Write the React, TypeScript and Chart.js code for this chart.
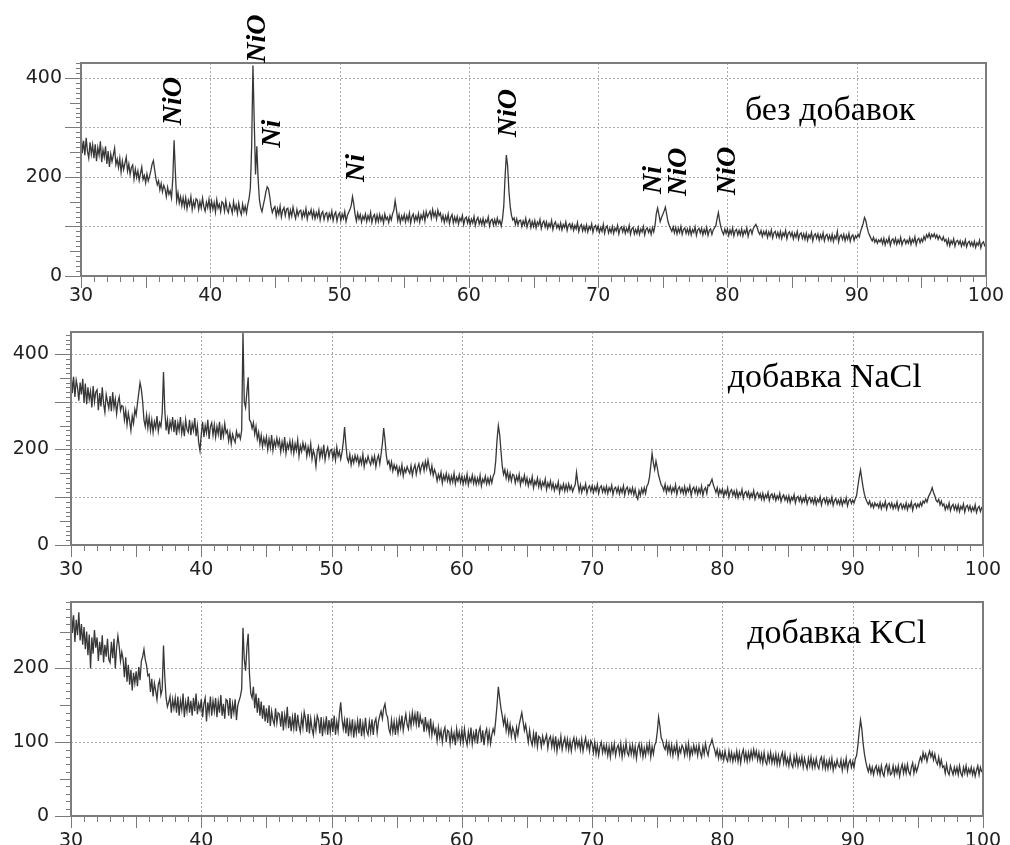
import React, { useEffect, useRef } from "react";
import { Chart, registerables } from "chart.js";

Chart.register(...registerables);

// 2θ grid: 30.0 … 100.0 step 0.1 (one row = one degree)
const THETA_START = 30;
const THETA_STEP = 0.1;

// Без добавок
const P1_NONE = [
  292,248,273,244,279,252,238,270,246,265,
  238,266,232,259,244,272,230,255,240,262,
  226,252,220,246,231,244,258,225,236,219,
  238,210,232,215,228,240,212,226,205,219,
  224,196,216,199,212,193,207,220,195,203,
  188,206,192,201,212,226,233,214,196,184,
  192,174,187,170,183,176,160,179,165,172,
  158,196,274,210,152,168,147,160,142,158,
  140,158,136,153,143,160,134,151,139,156,
  153,134,150,137,157,140,131,149,138,155,
  133,151,135,148,129,154,137,145,130,150,
  147,131,152,134,128,146,138,127,150,133,
  143,126,147,132,124,145,130,141,127,144,
  156,178,262,425,312,205,262,196,154,138,
  130,143,155,170,180,176,160,140,128,136,
  140,121,136,125,141,119,133,138,122,135,
  137,118,133,121,139,126,116,134,122,131,
  133,117,130,121,136,115,129,124,134,118,
  131,116,128,119,133,113,126,130,114,125,
  128,113,126,117,131,112,124,129,111,123,
  127,112,125,116,130,110,122,128,134,142,
  160,145,124,111,127,115,124,109,121,114,
  125,110,122,113,128,108,120,124,109,123,
  110,124,112,121,107,125,114,119,108,122,
  113,126,133,152,134,112,124,108,121,113,
  124,109,122,112,127,107,120,125,110,121,
  112,126,109,123,115,128,111,130,119,125,
  131,117,134,120,129,115,133,122,127,112,
  122,108,121,111,125,106,118,124,107,119,
  109,120,105,117,111,122,104,116,119,107,
  117,104,115,107,120,102,113,118,105,114,
  104,116,102,113,108,119,101,112,115,103,
  114,103,117,106,112,101,115,141,200,244,
  222,171,140,122,113,117,104,115,103,112,
  113,100,111,103,116,99,109,114,98,110,
  100,112,97,109,103,114,96,107,111,99,
  109,96,106,99,112,94,105,109,97,104,
  95,107,93,104,98,109,92,103,106,96,
  105,92,102,95,108,90,100,104,91,101,
  91,103,89,100,94,105,88,99,102,92,
  101,88,98,90,104,86,97,101,87,96,
  88,100,86,97,91,102,85,96,99,89,
  99,86,96,89,102,84,95,98,85,94,
  86,98,84,95,89,100,83,94,97,88,
  95,84,98,89,102,126,137,124,110,118,
  124,131,139,125,110,102,96,90,99,87,
  98,85,96,88,100,84,94,97,86,95,
  85,97,83,94,88,99,82,93,96,87,
  96,83,94,86,98,82,92,95,84,93,
  97,101,116,128,111,98,90,84,95,86,
  95,82,93,85,97,81,91,94,83,92,
  83,95,81,92,86,97,80,91,94,85,
  96,100,104,98,89,84,92,80,90,83,
  91,78,89,81,93,77,87,90,79,88,
  78,90,76,87,81,92,75,86,89,80,
  88,75,86,78,90,74,84,87,76,85,
  74,86,72,83,77,88,71,82,85,76,
  85,72,83,75,87,71,81,84,73,82,
  72,84,70,81,75,90,69,80,83,74,
  84,71,82,74,86,70,80,83,72,81,
  77,84,79,90,98,106,118,112,99,88,
  82,76,71,78,68,74,66,73,69,75,
  65,76,63,73,67,78,62,72,75,66,
  76,64,73,66,78,63,71,74,65,72,
  66,77,64,74,68,79,63,73,76,67,
  75,69,80,73,83,78,86,76,84,79,
  85,77,83,74,81,76,72,79,70,74,
  63,74,61,71,65,75,60,70,72,64,
  71,60,69,62,73,59,67,70,61,68,
  60,70,58,67,62,72,57,66,69,61,
  64,
];

// Добавка NaCl
const P2_NACL = [
  365,318,352,310,345,330,302,340,315,348,
  298,338,295,330,305,322,288,333,300,320,
  325,282,318,290,330,296,278,315,300,286,
  312,280,320,288,305,275,298,310,282,292,
  290,262,282,252,276,260,240,270,255,284,
  272,296,318,340,326,300,262,248,272,245,
  268,240,262,236,258,245,270,238,256,248,
  276,362,282,240,262,232,258,244,268,236,
  262,230,256,240,268,234,252,228,262,242,
  236,262,230,254,240,266,228,250,215,198,
  232,258,226,250,235,262,222,248,256,230,
  252,226,248,232,258,220,246,228,254,234,
  240,218,236,212,232,222,215,238,226,232,
  222,240,445,300,288,320,351,262,258,244,
  256,232,248,222,236,212,230,206,224,210,
  226,200,222,204,230,198,218,206,224,208,
  220,195,216,200,226,192,212,202,218,196,
  216,192,212,198,220,186,208,196,214,200,
  210,186,205,190,212,180,198,188,165,196,
  206,182,200,186,210,178,195,204,184,198,
  200,182,198,178,205,186,196,180,194,216,
  247,210,182,174,190,168,184,172,188,176,
  186,168,182,170,190,164,180,172,186,175,
  168,184,172,186,164,180,188,170,190,212,
  245,220,188,170,176,160,174,155,168,158,
  166,148,162,150,168,145,160,152,164,156,
  150,166,146,160,168,148,162,170,152,165,
  172,156,175,160,178,162,150,166,146,158,
  150,134,148,138,152,130,146,136,150,134,
  146,130,144,132,150,128,142,134,147,131,
  144,128,142,130,148,126,140,132,146,129,
  142,127,140,129,146,124,138,131,144,128,
  140,128,142,130,144,150,176,220,250,232,
  198,165,148,158,140,154,136,150,134,148,
  146,130,144,134,148,126,140,132,146,128,
  140,124,137,128,143,120,134,126,140,122,
  135,119,132,124,138,116,130,121,134,118,
  129,114,126,118,132,110,124,116,128,113,
  126,114,128,116,124,112,120,126,152,130,
  112,126,110,122,116,128,108,120,124,113,
  124,110,122,113,127,108,120,124,111,121,
  110,123,108,120,113,125,106,118,121,110,
  121,107,119,110,124,105,117,121,108,118,
  108,120,105,117,102,96,114,104,118,108,
  120,108,123,128,142,166,192,172,158,176,
  162,146,136,126,122,114,127,110,122,113,
  123,109,120,112,126,106,118,122,110,119,
  108,122,106,119,112,124,104,117,121,109,
  120,106,118,109,123,104,116,120,108,126,
  124,131,138,126,118,110,120,104,116,108,
  117,102,114,106,119,100,112,116,104,113,
  101,114,99,110,104,116,98,109,112,102,
  111,98,108,101,114,96,106,110,99,107,
  96,108,94,105,99,110,93,104,107,97,
  106,93,103,96,108,91,101,105,94,102,
  91,103,89,100,94,105,88,99,102,92,
  101,88,98,91,103,86,96,100,89,97,
  87,99,85,96,90,101,84,95,98,88,
  98,85,95,88,100,83,93,97,86,94,
  85,97,83,94,88,99,82,93,96,87,
  94,88,97,104,124,142,157,138,120,106,
  97,90,85,92,80,87,78,88,82,86,
  78,89,76,86,80,91,75,85,88,79,
  88,76,85,78,90,74,83,87,76,84,
  76,88,74,85,79,90,73,84,87,78,
  86,80,89,82,92,88,96,90,100,106,
  112,120,110,103,94,90,96,84,92,82,
  86,74,83,76,88,72,81,85,74,83,
  72,84,70,81,75,86,69,80,83,73,
  82,70,79,72,84,68,77,81,70,78,
  74,
];

// Добавка KCl
const P3_KCL = [
  288,248,272,236,266,245,276,238,260,232,
  256,226,250,218,246,200,242,220,252,228,
  242,210,236,218,245,208,232,216,240,212,
  208,236,214,240,200,228,244,230,210,222,
  212,188,215,182,205,178,198,170,194,180,
  196,176,202,184,210,216,226,212,204,190,
  192,168,186,162,180,170,158,178,184,164,
  172,231,188,160,148,154,162,140,158,146,
  160,140,162,136,156,144,166,134,154,142,
  162,140,156,136,160,142,166,138,152,144,
  158,134,152,160,128,154,140,162,136,156,
  142,160,134,155,140,164,136,152,132,158,
  156,136,160,132,152,140,158,130,150,156,
  162,172,255,212,197,228,247,192,166,160,
  175,146,166,140,160,136,155,132,150,128,
  146,126,150,122,142,130,124,146,126,140,
  138,121,142,116,137,124,148,119,135,115,
  134,119,140,115,137,122,114,135,120,141,
  132,114,138,112,132,118,110,131,117,136,
  130,112,134,108,128,116,135,110,130,114,
  132,114,136,110,128,115,138,154,132,118,
  130,112,133,108,127,113,131,106,125,112,
  129,112,132,108,125,111,133,115,110,128,
  114,131,110,127,132,113,128,136,142,132,
  146,152,138,134,118,112,130,114,128,110,
  128,114,132,120,136,116,128,138,124,118,
  136,122,140,126,138,124,142,120,136,126,
  130,114,134,118,126,112,132,110,124,112,
  118,102,120,106,116,100,114,120,100,116,
  114,98,116,102,112,96,118,104,114,100,
  116,100,118,104,96,114,102,120,98,112,
  102,118,98,114,120,100,116,96,112,118,
  100,114,98,110,118,112,130,150,175,160,
  146,136,124,134,116,128,112,124,108,120,
  114,104,120,110,124,132,140,128,116,124,
  112,100,116,102,96,112,98,114,94,108,
  106,94,108,98,104,110,92,104,108,94,
  106,92,108,88,102,94,108,90,100,106,
  92,104,90,102,88,100,106,92,104,94,
  102,90,104,88,98,106,92,100,88,102,
  98,86,100,84,96,82,94,100,86,96,
  86,96,82,94,80,96,86,98,82,92,
  96,84,98,80,94,84,100,86,82,96,
  84,96,82,94,78,92,98,84,96,80,
  92,82,96,86,98,80,94,84,96,100,
  114,134,122,106,102,94,90,100,86,98,
  84,96,82,94,86,98,80,92,86,96,
  92,82,96,84,98,80,92,84,96,86,
  94,82,96,86,80,94,84,98,88,82,
  94,98,104,96,90,82,90,78,88,78,
  86,76,88,78,74,88,76,86,74,84,
  76,88,74,86,72,84,90,76,86,74,
  86,76,88,78,90,80,88,76,86,74,
  84,72,86,74,70,84,74,86,72,82,
  72,84,70,82,70,80,86,72,84,70,
  78,68,82,70,66,80,70,82,68,78,
  70,80,66,78,70,64,78,68,80,66,
  76,66,78,68,64,76,80,66,78,64,
  74,64,76,66,78,62,72,66,76,68,
  66,76,62,74,66,78,62,72,76,66,
  74,66,78,82,96,115,130,118,98,84,
  74,66,60,68,58,66,56,64,68,58,
  66,56,68,58,54,66,70,58,68,56,
  58,68,56,66,58,68,54,64,70,58,
  68,58,70,60,56,66,72,58,68,60,
  66,74,80,74,86,78,84,74,82,88,
  80,86,76,84,74,70,80,68,76,66,
  68,58,70,60,56,68,62,56,66,58,
  66,56,68,58,54,66,58,68,56,64,
  58,66,56,64,54,62,68,56,66,60,
  60,
];

// Axis tick labels
const X_TICKS = [30, 40, 50, 60, 70, 80, 90, 100];
const Y_LABELS_WIDE = [0, 200, 400];
const Y_LABELS_KCL = [0, 100, 200];

// Phase labels of the first pattern: [text, 2θ, intensity]
const PHASE_LABELS: [string, number, number][] = [
  ["NiO", 37.2, 353],
  ["NiO", 43.7, 479],
  ["Ni", 44.85, 287],
  ["Ni", 51.35, 218],
  ["NiO", 63.1, 329],
  ["Ni", 74.3, 194],
  ["NiO", 76.2, 210],
  ["NiO", 80.0, 212],
];

const SAMPLE_TITLES = ["без добавок", "добавка NaCl", "добавка KCl"];

type PanelCfg = {
  key: string;
  data: number[];
  top: number;
  height: number;
  padTop: number;
  padRight: number;
  yWidth: number;
  xHeight: number;
  ymax: number;
  yLabels: number[];
  yLabelPad: number;
  xLabelPad: number;
  title: string;
  titleAt: [number, number];
  phases: [string, number, number][];
};

const PANELS: PanelCfg[] = [
  {
    key: "p1", data: P1_NONE, top: 0, height: 306, padTop: 63, padRight: 24,
    yWidth: 81, xHeight: 30, ymax: 430, yLabels: Y_LABELS_WIDE, yLabelPad: 11, xLabelPad: 1,
    title: SAMPLE_TITLES[0], titleAt: [81.35, 315], phases: PHASE_LABELS,
  },
  {
    key: "p2", data: P2_NACL, top: 306, height: 269, padTop: 26, padRight: 27,
    yWidth: 71, xHeight: 30, ymax: 446, yLabels: Y_LABELS_WIDE, yLabelPad: 14, xLabelPad: 6,
    title: SAMPLE_TITLES[1], titleAt: [80.4, 330], phases: [],
  },
  {
    key: "p3", data: P3_KCL, top: 575, height: 270, padTop: 27, padRight: 27,
    yWidth: 71, xHeight: 29, ymax: 290, yLabels: Y_LABELS_KCL, yLabelPad: 14, xLabelPad: 6,
    title: SAMPLE_TITLES[2], titleAt: [81.9, 234], phases: [],
  },
];

function makeDecor(p: PanelCfg) {
  return {
    id: "decor_" + p.key,
    beforeDatasetsDraw(chart: any) {
      const { ctx, chartArea: a, scales } = chart;
      const x = scales.x, y = scales.y;
      ctx.save();
      ctx.strokeStyle = "#a8a8a8";
      ctx.lineWidth = 1;
      ctx.setLineDash([2, 2]);
      for (const v of X_TICKS) {
        if (v <= 30 || v >= 100) continue;
        const px = Math.round(x.getPixelForValue(v)) + 0.5;
        ctx.beginPath(); ctx.moveTo(px, a.top); ctx.lineTo(px, a.bottom); ctx.stroke();
      }
      for (let v = 100; v < p.ymax; v += 100) {
        const py = Math.round(y.getPixelForValue(v)) + 0.5;
        ctx.beginPath(); ctx.moveTo(a.left, py); ctx.lineTo(a.right, py); ctx.stroke();
      }
      ctx.restore();
    },
    afterDraw(chart: any) {
      const { ctx, chartArea: a, scales } = chart;
      const x = scales.x, y = scales.y;
      ctx.save();
      ctx.strokeStyle = "#7a7a7a";
      ctx.lineWidth = 1;
      for (let v = 0; v <= p.ymax; v += 10) {
        const len = v % 100 === 0 ? 16 : v % 50 === 0 ? 11 : 5;
        const py = Math.round(y.getPixelForValue(v)) + 0.5;
        ctx.beginPath(); ctx.moveTo(a.left - len, py); ctx.lineTo(a.left, py); ctx.stroke();
      }
      for (let v = 30; v <= 100; v += 1) {
        const len = v % 5 === 0 ? 12 : 6;
        const px = Math.round(x.getPixelForValue(v)) + 0.5;
        ctx.beginPath(); ctx.moveTo(px, a.bottom); ctx.lineTo(px, a.bottom + len); ctx.stroke();
      }
      ctx.strokeStyle = "#7c7c7c";
      ctx.lineWidth = 2;
      ctx.strokeRect(a.left, a.top, a.right - a.left, a.bottom - a.top);
      ctx.fillStyle = "#000";
      ctx.font = "34px 'Liberation Serif', 'Times New Roman', serif";
      ctx.textAlign = "left";
      ctx.textBaseline = "alphabetic";
      ctx.fillText(p.title, x.getPixelForValue(p.titleAt[0]), y.getPixelForValue(p.titleAt[1]));
      ctx.font = "italic bold 28px 'Liberation Serif', 'Times New Roman', serif";
      ctx.textAlign = "center";
      ctx.textBaseline = "middle";
      for (const [t, tx, ty] of p.phases) {
        ctx.save();
        ctx.translate(x.getPixelForValue(tx), y.getPixelForValue(ty));
        ctx.rotate(-Math.PI / 2);
        ctx.fillText(t, 0, 0);
        ctx.restore();
      }
      ctx.restore();
    },
  };
}

function Panel({ p }: { p: PanelCfg }) {
  const ref = useRef<HTMLCanvasElement | null>(null);
  useEffect(() => {
    if (!ref.current) return;
    const points = p.data.map((v, i) => ({
      x: Math.round((THETA_START + i * THETA_STEP) * 10) / 10,
      y: v,
    }));
    const tickFont = { family: "'DejaVu Sans', sans-serif", size: 19 };
    const chart = new Chart(ref.current, {
      type: "line",
      data: {
        datasets: [
          {
            data: points,
            borderColor: "rgba(20,20,20,0.85)",
            borderWidth: 1.3,
            pointRadius: 0,
            tension: 0,
            fill: false,
          },
        ],
      },
      options: {
        responsive: false,
        animation: false,
        devicePixelRatio: 1,
        layout: { padding: { top: p.padTop, right: p.padRight, left: 0, bottom: 0 } },
        plugins: { legend: { display: false }, tooltip: { enabled: false } },
        scales: {
          x: {
            type: "linear",
            min: 30,
            max: 100,
            grid: { display: false },
            border: { display: false },
            ticks: {
              padding: p.xLabelPad,
              color: "#222",
              font: tickFont,
              maxRotation: 0,
              autoSkip: false,
            },
            afterBuildTicks: (s: any) => { s.ticks = X_TICKS.map((v) => ({ value: v })); },
            afterFit: (s: any) => { s.height = p.xHeight; },
          },
          y: {
            type: "linear",
            min: 0,
            max: p.ymax,
            grid: { display: false },
            border: { display: false },
            ticks: {
              padding: p.yLabelPad,
              color: "#222",
              font: tickFont,
              autoSkip: false,
              callback: (v: any) => String(v),
            },
            afterBuildTicks: (s: any) => { s.ticks = p.yLabels.map((v) => ({ value: v })); },
            afterFit: (s: any) => { s.width = p.yWidth; },
          },
        },
      },
      plugins: [makeDecor(p)],
    } as any);
    return () => chart.destroy();
  }, [p]);
  return (
    <canvas
      ref={ref}
      width={1010}
      height={p.height}
      style={{ position: "absolute", left: 0, top: p.top, width: 1010, height: p.height, display: "block" }}
    />
  );
}

export default function App() {
  return (
    <div style={{ position: "absolute", left: 0, top: 0, width: 1010, height: 845, background: "#fff", overflow: "hidden" }}>
      {PANELS.map((p) => (
        <Panel key={p.key} p={p} />
      ))}
    </div>
  );
}
